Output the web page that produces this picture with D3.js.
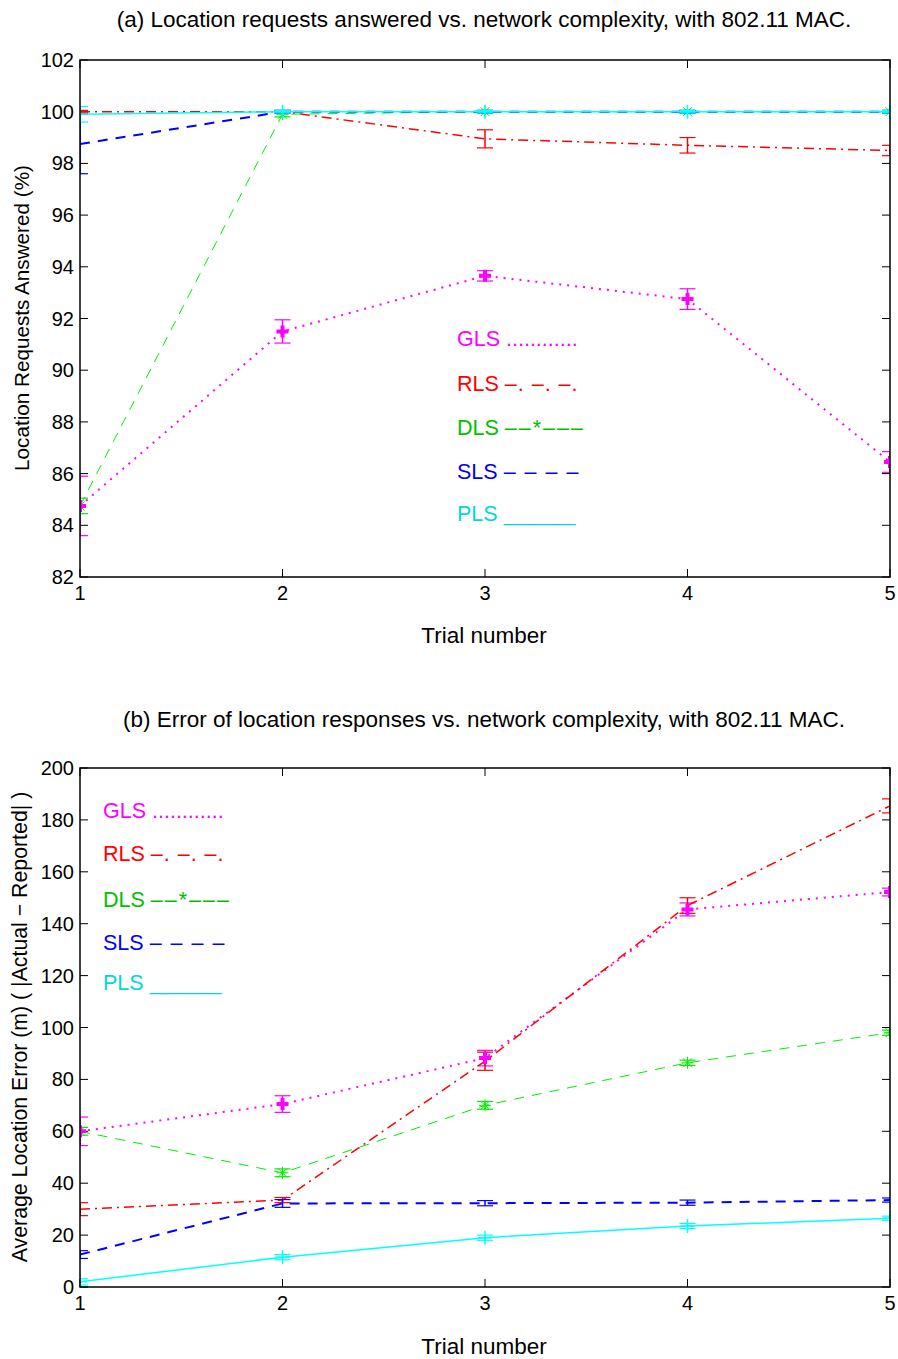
<!DOCTYPE html>
<html>
<head>
<meta charset="utf-8">
<script src="https://cdn.jsdelivr.net/npm/d3@7"></script>
<style>
  body { margin: 0; background: #fff; }
  svg text { font-family: "Liberation Sans", Arial, sans-serif; }
</style>
</head>
<body>
<div id="chart"></div>
<script>
// trial numbers on the x axis
var trials = [1, 2, 3, 4, 5];
var seriesNames = ["GLS", "RLS", "DLS", "SLS", "PLS"];
var legendSamples = ["............", "\u2013. \u2013. \u2013.", "\u2013\u2013*\u2013\u2013\u2013", "\u2013 \u2013 \u2013 \u2013", "______"];

// (a) location requests answered (%)
var answeredGLS = [84.75, 91.5, 93.65, 92.75, 86.45];
var answeredRLS = [100, 100, 98.95, 98.7, 98.5];
var answeredDLS = [84.75, 99.9, 100, 100, 100];
var answeredSLS = [98.75, 100, 100, 100, 100];
var answeredPLS = [99.9, 100, 100, 100, 100];
var answeredErrGLS = [1.15, 0.45, 0.2, 0.4, 0.4];
var answeredErrRLS = [0.05, 0.05, 0.35, 0.3, 0.2];
var answeredErrDLS = [0.3, 0.1, 0.05, 0.05, 0.05];
var answeredErrSLS = [1.15, 0.05, 0.05, 0.05, 0.05];
var answeredErrPLS = [0.3, 0.05, 0.05, 0.05, 0.05];
var answeredTicks = [82, 84, 86, 88, 90, 92, 94, 96, 98, 100, 102];

// (b) average location error (m)
var errorGLS = [60, 70.5, 88.2, 145.5, 152.2];
var errorRLS = [30, 33.5, 87, 147, 185.4];
var errorDLS = [60, 44, 70, 86.4, 98];
var errorSLS = [12.5, 32.2, 32.3, 32.5, 33.5];
var errorPLS = [2, 11.5, 19, 23.5, 26.5];
var errorErrGLS = [5.5, 3.2, 3, 2.5, 1.5];
var errorErrRLS = [2.5, 1, 3.5, 3, 2.7];
var errorErrDLS = [1.5, 1.5, 1.5, 1, 1];
var errorErrSLS = [1.5, 1.5, 1, 1, 0.8];
var errorErrPLS = [1.2, 1, 1, 1, 0.8];
var errorTicks = [0, 20, 40, 60, 80, 100, 120, 140, 160, 180, 200];

var styles = {
    GLS: { color: "#ff00ff", text: "#ff00ff", dash: "2,6", width: 2, marker: "boldplus", spacing: "0px" },
    RLS: { color: "#ff0000", text: "#ff0000", dash: "10,5,2,5", width: 1.5, marker: null, spacing: "1px" },
    DLS: { color: "#00ee00", text: "#00c000", dash: "10,8", width: 1, marker: "star", spacing: "2px" },
    SLS: { color: "#0000ff", text: "#0000ff", dash: "10,8", width: 2, marker: null, spacing: "1.5px" },
    PLS: { color: "#00ffff", text: "#00d8d8", dash: null, width: 1.5, marker: "plus", spacing: "0px" }
};

var svg = d3.select("#chart").append("svg")
    .attr("width", 898)
    .attr("height", 1359);

function drawMarker(g, kind, cx, cy, color) {
    if (kind === "boldplus" || kind === "plus") {
        var sw = kind === "boldplus" ? 4 : 1.5;
        var r = kind === "boldplus" ? 6 : 7;
        g.append("path")
            .attr("d", "M" + (cx - r) + "," + cy + "H" + (cx + r) + "M" + cx + "," + (cy - r) + "V" + (cy + r))
            .attr("stroke", color).attr("stroke-width", sw);
    } else if (kind === "star") {
        var r2 = 6;
        g.append("path")
            .attr("d", "M" + (cx - r2) + "," + cy + "H" + (cx + r2) +
                "M" + cx + "," + (cy - r2) + "V" + (cy + r2) +
                "M" + (cx - 4.5) + "," + (cy - 4.5) + "L" + (cx + 4.5) + "," + (cy + 4.5) +
                "M" + (cx - 4.5) + "," + (cy + 4.5) + "L" + (cx + 4.5) + "," + (cy - 4.5))
            .attr("stroke", color).attr("stroke-width", 1);
    }
}

function drawPanel(cfg) {
    var x = d3.scaleLinear().domain([1, 5]).range([cfg.left, cfg.right]);
    var y = d3.scaleLinear().domain(cfg.domain).range([cfg.bottom, cfg.top]);
    var w = cfg.right - cfg.left, h = cfg.bottom - cfg.top;

    svg.append("clipPath").attr("id", cfg.id)
        .append("rect").attr("x", cfg.left).attr("y", cfg.top).attr("width", w).attr("height", h);

    // ticks inside on all four sides
    var g = svg.append("g");
    cfg.ticks.forEach(function (t) {
        g.append("line").attr("x1", cfg.left).attr("x2", cfg.left + 8)
            .attr("y1", y(t)).attr("y2", y(t)).attr("stroke", "#000");
        g.append("line").attr("x1", cfg.right).attr("x2", cfg.right - 8)
            .attr("y1", y(t)).attr("y2", y(t)).attr("stroke", "#000");
        g.append("text").attr("x", cfg.left - 6).attr("y", y(t) + 7)
            .attr("text-anchor", "end").style("font-size", "20px").text(t);
    });
    trials.forEach(function (t) {
        g.append("line").attr("x1", x(t)).attr("x2", x(t))
            .attr("y1", cfg.bottom).attr("y2", cfg.bottom - 8).attr("stroke", "#000");
        g.append("line").attr("x1", x(t)).attr("x2", x(t))
            .attr("y1", cfg.top).attr("y2", cfg.top + 8).attr("stroke", "#000");
        g.append("text").attr("x", x(t)).attr("y", cfg.bottom + 23)
            .attr("text-anchor", "middle").style("font-size", "20px").text(t);
    });

    var plot = svg.append("g").attr("clip-path", "url(#" + cfg.id + ")");
    var line = d3.line().x(function (d, i) { return x(trials[i]); }).y(function (d) { return y(d); });

    seriesNames.forEach(function (name, k) {
        var vals = cfg.values[k], errs = cfg.errors[k], st = styles[name];
        // error bars
        vals.forEach(function (v, i) {
            var cx = x(trials[i]);
            plot.append("line").attr("x1", cx).attr("x2", cx)
                .attr("y1", y(v - errs[i])).attr("y2", y(v + errs[i]))
                .attr("stroke", st.color).attr("stroke-width", 1.5);
            [v - errs[i], v + errs[i]].forEach(function (e) {
                plot.append("line").attr("x1", cx - 8).attr("x2", cx + 8)
                    .attr("y1", y(e)).attr("y2", y(e))
                    .attr("stroke", st.color).attr("stroke-width", 1.2);
            });
        });
        plot.append("path").datum(vals)
            .attr("d", line)
            .attr("fill", "none")
            .attr("stroke", st.color)
            .attr("stroke-width", st.width)
            .attr("stroke-dasharray", st.dash);
        if (st.marker !== "boldplus") {
            vals.forEach(function (v, i) { drawMarker(plot, st.marker, x(trials[i]), y(v), st.color); });
        }
    });
    // GLS bold plus markers sit on top
    cfg.values[0].forEach(function (v, i) { drawMarker(plot, "boldplus", x(trials[i]), y(v), styles.GLS.color); });

    // axes box
    svg.append("rect").attr("x", cfg.left).attr("y", cfg.top)
        .attr("width", w).attr("height", h)
        .attr("fill", "none").attr("stroke", "#000").attr("stroke-width", 1.5);

    // legend text
    seriesNames.forEach(function (name, k) {
        var t = svg.append("text").attr("x", cfg.legendX).attr("y", cfg.legendY[k])
            .style("font-size", "21.5px")
            .attr("fill", styles[name].text)
            .attr("xml:space", "preserve")
            .style("white-space", "pre");
        t.append("tspan").text(name + " ");
        t.append("tspan").style("letter-spacing", styles[name].spacing).text(legendSamples[k]);
    });

    svg.append("text").attr("x", (cfg.left + cfg.right) / 2 - 1).attr("y", cfg.titleY)
        .attr("text-anchor", "middle").style("font-size", "22.5px").text(cfg.title);
    svg.append("text").attr("x", (cfg.left + cfg.right) / 2 - 1).attr("y", cfg.xLabelY)
        .attr("text-anchor", "middle").style("font-size", "22.5px").text("Trial number");
    svg.append("text")
        .attr("transform", "translate(" + cfg.yLabelX + "," + cfg.yLabelY + ")rotate(-90)")
        .attr("text-anchor", "middle").style("font-size", cfg.yLabelSize).text(cfg.yLabel);
}

drawPanel({
    id: "clipA", left: 80, right: 890, top: 60, bottom: 577,
    domain: [82, 102], ticks: answeredTicks,
    values: [answeredGLS, answeredRLS, answeredDLS, answeredSLS, answeredPLS],
    errors: [answeredErrGLS, answeredErrRLS, answeredErrDLS, answeredErrSLS, answeredErrPLS],
    legendX: 457, legendY: [346, 391, 435, 479, 521],
    title: "(a) Location requests answered vs. network complexity, with 802.11 MAC.",
    titleY: 27, xLabelY: 643, yLabelX: 29, yLabelY: 318, yLabelSize: "20.7px",
    yLabel: "Location Requests Answered (%)"
});

drawPanel({
    id: "clipB", left: 80, right: 890, top: 768, bottom: 1287,
    domain: [0, 200], ticks: errorTicks,
    values: [errorGLS, errorRLS, errorDLS, errorSLS, errorPLS],
    errors: [errorErrGLS, errorErrRLS, errorErrDLS, errorErrSLS, errorErrPLS],
    legendX: 103, legendY: [818, 861, 907, 950, 990],
    title: "(b) Error of location responses vs. network complexity, with 802.11 MAC.",
    titleY: 727, xLabelY: 1354, yLabelX: 27, yLabelY: 1027, yLabelSize: "21.3px",
    yLabel: "Average Location Error (m) ( |Actual \u2212 Reported| )"
});
</script>
</body>
</html>
